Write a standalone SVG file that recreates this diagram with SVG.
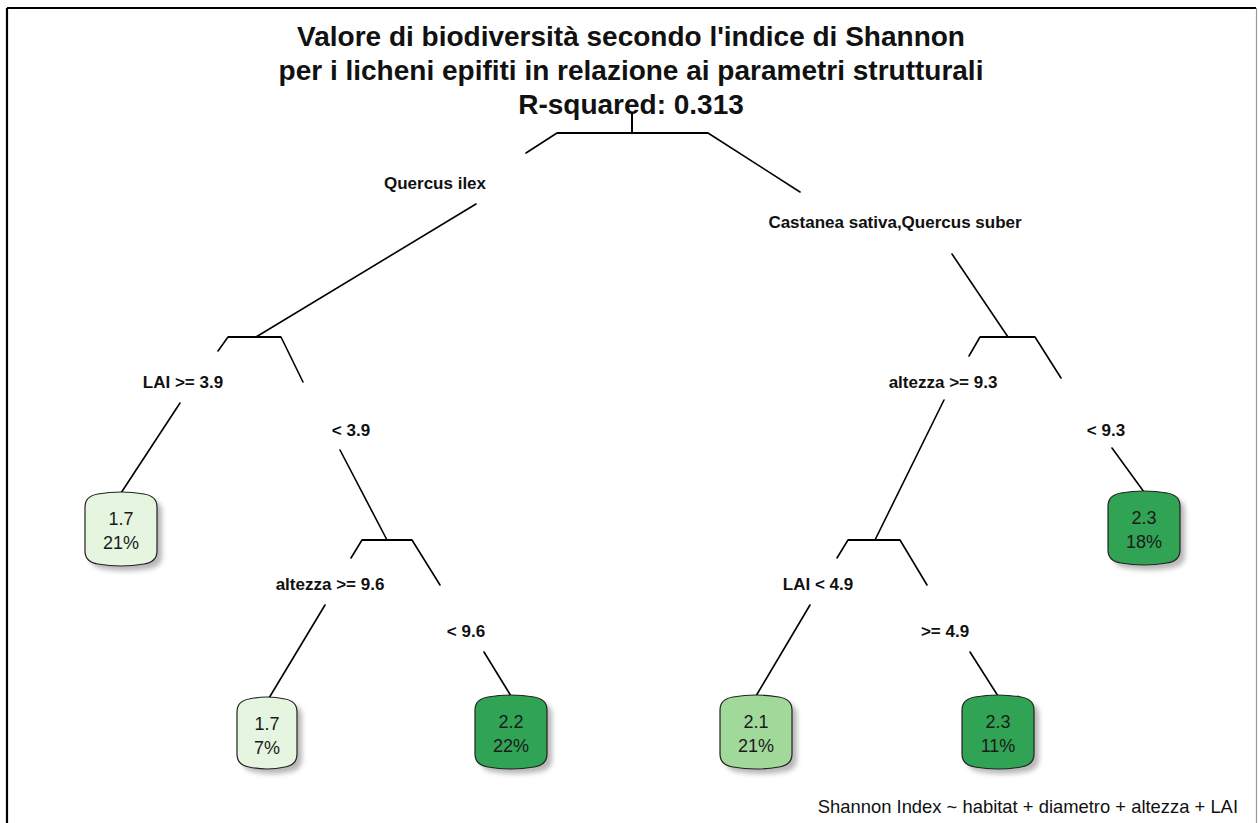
<svg xmlns="http://www.w3.org/2000/svg" width="1258" height="823" viewBox="0 0 1258 823">
<style>
.title{font-family:"Liberation Sans",Arial,sans-serif;font-weight:bold;font-size:28px;fill:#111;text-anchor:middle}
.split{font-family:"Liberation Sans",Arial,sans-serif;font-weight:bold;font-size:17px;fill:#111;text-anchor:middle}
.leaf{font-family:"Liberation Sans",Arial,sans-serif;font-size:18px;fill:#1a1a1a;text-anchor:middle}
.note{font-family:"Liberation Sans",Arial,sans-serif;font-size:18.4px;fill:#111;text-anchor:end}
.edge{stroke:#000;stroke-width:1.6;fill:none;stroke-linecap:round}
.bar{stroke:#000;stroke-width:2;fill:none}
.box{stroke:#222;stroke-width:1.2}
.shadow{fill:#b8b8b8;filter:url(#blur)}
.c1{fill:#e5f5e0}.c2{fill:#a1d99b}.c3{fill:#31a354}
</style>
<defs>
<filter id="blur" x="-20%" y="-20%" width="140%" height="140%"><feGaussianBlur stdDeviation="2.5"/></filter>
<path id="lw72" d="M0,14 Q0,3 13,1 Q36,-3 59,1 Q72,3 72,14 L72,58 Q72,69 59,71 Q36,75 13,71 Q0,69 0,58 Z"/>
<path id="lw60" d="M0,14 Q0,3 12,1 Q30,-3 48,1 Q60,3 60,14 L60,56 Q60,67 48,69 Q30,73 12,69 Q0,67 0,56 Z"/>
</defs>
<rect x="0" y="0" width="1258" height="823" fill="#fff"/>
<g id="frame">
<line x1="7" y1="8" x2="1256" y2="8" stroke="#000" stroke-width="2"/>
<line x1="7" y1="8" x2="7" y2="823" stroke="#000" stroke-width="2.2"/>
<line x1="1256.5" y1="8" x2="1256.5" y2="823" stroke="#999" stroke-width="1.2"/>
</g>
<g id="title">
<text class="title" x="631" y="46">Valore di biodiversità secondo l'indice di Shannon</text>
<text class="title" x="631" y="80">per i licheni epifiti in relazione ai parametri strutturali</text>
<text class="title" x="631" y="114">R-squared: 0.313</text>
</g>
<g id="connectors">
<line class="bar" x1="632" y1="112" x2="632" y2="133"/>
<line class="bar" x1="557" y1="133" x2="708" y2="133"/>
<line class="edge" x1="557" y1="133" x2="526" y2="153"/>
<line class="edge" x1="476" y1="204" x2="256" y2="337"/>
<line class="edge" x1="708" y1="133" x2="800" y2="192"/>
<line class="edge" x1="952" y1="254" x2="1008" y2="337"/>
<line class="bar" x1="228" y1="337" x2="281" y2="337"/>
<line class="edge" x1="228" y1="337" x2="218" y2="351"/>
<line class="edge" x1="180" y1="403" x2="121" y2="493"/>
<line class="edge" x1="281" y1="337" x2="303" y2="382"/>
<line class="edge" x1="340" y1="450" x2="387" y2="540"/>
<line class="bar" x1="980" y1="337" x2="1035" y2="337"/>
<line class="edge" x1="980" y1="337" x2="969" y2="356"/>
<line class="edge" x1="944" y1="400" x2="875" y2="540"/>
<line class="edge" x1="1035" y1="337" x2="1061" y2="378"/>
<line class="edge" x1="1112" y1="448" x2="1144" y2="492"/>
<line class="bar" x1="362" y1="540" x2="412" y2="540"/>
<line class="edge" x1="362" y1="540" x2="351" y2="558"/>
<line class="edge" x1="325" y1="605" x2="269" y2="698"/>
<line class="edge" x1="412" y1="540" x2="440" y2="585"/>
<line class="edge" x1="484" y1="652" x2="511" y2="696"/>
<line class="bar" x1="848" y1="540" x2="900" y2="540"/>
<line class="edge" x1="848" y1="540" x2="837" y2="558"/>
<line class="edge" x1="810" y1="605" x2="756" y2="696"/>
<line class="edge" x1="900" y1="540" x2="927" y2="585"/>
<line class="edge" x1="970" y1="652" x2="998" y2="696"/>
</g>
<g id="split-labels">
<text class="split" x="435" y="189">Quercus ilex</text>
<text class="split" x="895" y="228">Castanea sativa,Quercus suber</text>
<text class="split" x="183" y="388">LAI &gt;= 3.9</text>
<text class="split" x="351" y="436">&lt; 3.9</text>
<text class="split" x="943" y="388">altezza &gt;= 9.3</text>
<text class="split" x="1106" y="436">&lt; 9.3</text>
<text class="split" x="330" y="590">altezza &gt;= 9.6</text>
<text class="split" x="466" y="637">&lt; 9.6</text>
<text class="split" x="818" y="590">LAI &lt; 4.9</text>
<text class="split" x="945" y="637">&gt;= 4.9</text>
</g>
<g id="leaf-1">
<use href="#lw72" class="shadow" transform="translate(90,498)"/>
<use href="#lw72" class="box c1" transform="translate(85,493)"/>
<text class="leaf" x="121" y="525">1.7</text><text class="leaf" x="121" y="549">21%</text>
</g>
<g id="leaf-2">
<use href="#lw72" class="shadow" transform="translate(1113,497)"/>
<use href="#lw72" class="box c3" transform="translate(1108,492)"/>
<text class="leaf" x="1144" y="524">2.3</text><text class="leaf" x="1144" y="548">18%</text>
</g>
<g id="leaf-3">
<use href="#lw60" class="shadow" transform="translate(242,703)"/>
<use href="#lw60" class="box c1" transform="translate(237,698)"/>
<text class="leaf" x="267" y="730">1.7</text><text class="leaf" x="267" y="754">7%</text>
</g>
<g id="leaf-4">
<use href="#lw72" class="shadow" transform="translate(480,701)"/>
<use href="#lw72" class="box c3" transform="translate(475,696)"/>
<text class="leaf" x="511" y="728">2.2</text><text class="leaf" x="511" y="752">22%</text>
</g>
<g id="leaf-5">
<use href="#lw72" class="shadow" transform="translate(725,701)"/>
<use href="#lw72" class="box c2" transform="translate(720,696)"/>
<text class="leaf" x="756" y="728">2.1</text><text class="leaf" x="756" y="752">21%</text>
</g>
<g id="leaf-6">
<use href="#lw72" class="shadow" transform="translate(967,701)"/>
<use href="#lw72" class="box c3" transform="translate(962,696)"/>
<text class="leaf" x="998" y="728">2.3</text><text class="leaf" x="998" y="752">11%</text>
</g>
<g id="footnote">
<text class="note" x="1238" y="813">Shannon Index ~ habitat + diametro + altezza + LAI</text>
</g>
</svg>
